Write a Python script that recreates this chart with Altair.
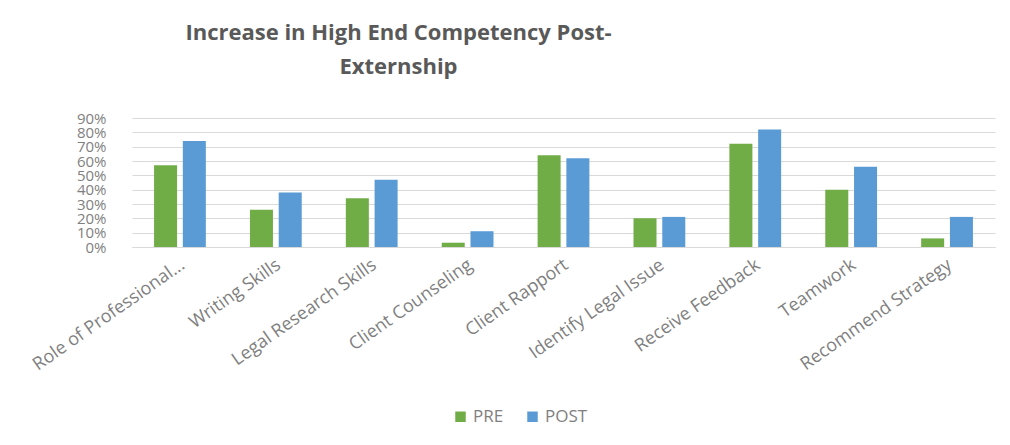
import altair as alt
import pandas as pd

categories = ["Role of Professional...", "Writing Skills", "Legal Research Skills",
              "Client Counseling", "Client Rapport", "Identify Legal Issue",
              "Receive Feedback", "Teamwork", "Recommend Strategy"]
pre = [0.57, 0.26, 0.34, 0.03, 0.64, 0.20, 0.72, 0.40, 0.06]
post = [0.74, 0.38, 0.47, 0.11, 0.62, 0.21, 0.82, 0.56, 0.21]
series = ["PRE", "POST"]
colors = ["#70ad47", "#5b9bd5"]
y_ticks = [0, 0.1, 0.2, 0.3, 0.4, 0.5, 0.6, 0.7, 0.8, 0.9]

rows = []
for c, a, b in zip(categories, pre, post):
    rows.append({"Skill": c, "Series": "PRE", "Value": a})
    rows.append({"Skill": c, "Series": "POST", "Value": b})
df = pd.DataFrame(rows)

grey = "#7f7f7f"

chart = alt.Chart(df).mark_bar().encode(
    x=alt.X("Skill:N", sort=categories, title=None,
            scale=alt.Scale(paddingInner=0.46, paddingOuter=0.23),
            axis=alt.Axis(labelAngle=325, labelAlign="right", labelBaseline="middle",
                          labelFontSize=18, labelColor=grey, labelFont="Open Sans",
                          labelPadding=16, labelOffset=3, ticks=False,
                          domainColor="#d9d9d9", labelLimit=300, labelOverlap=False)),
    xOffset=alt.XOffset("Series:N", sort=series,
                        scale=alt.Scale(paddingInner=0.2)),
    y=alt.Y("Value:Q", title=None,
            scale=alt.Scale(domain=[0, 0.9], nice=False),
            axis=alt.Axis(values=y_ticks, format=".0%", labelFontSize=15,
                          labelColor=grey, labelFont="Open Sans", labelPadding=26,
                          labelOverlap=False, labelBound=False,
                          ticks=False, domain=False, gridColor="#d9d9d9")),
    color=alt.Color("Series:N", sort=series,
                    scale=alt.Scale(domain=series, range=colors),
                    legend=alt.Legend(title=None, orient="none", direction="horizontal",
                                      legendX=320, legendY=290, symbolType="square",
                                      symbolSize=110, symbolStrokeWidth=0,
                                      labelFontSize=17, labelColor=grey,
                                      labelFont="Open Sans", columnPadding=20)),
).properties(
    width=863, height=129,
    title=alt.TitleParams(["Increase in High End Competency Post-", "Externship"],
                          fontSize=22, font="Open Sans", fontWeight="bold",
                          color="#595959", anchor="middle", dx=-165, offset=32,
                          lineHeight=34),
    autosize=alt.AutoSizeParams(type="none"),
    padding={"left": 124, "top": 110, "right": 5, "bottom": 185},
).configure_view(stroke=None)

chart.save("out.html", embed_options={"renderer": "svg", "actions": False})
